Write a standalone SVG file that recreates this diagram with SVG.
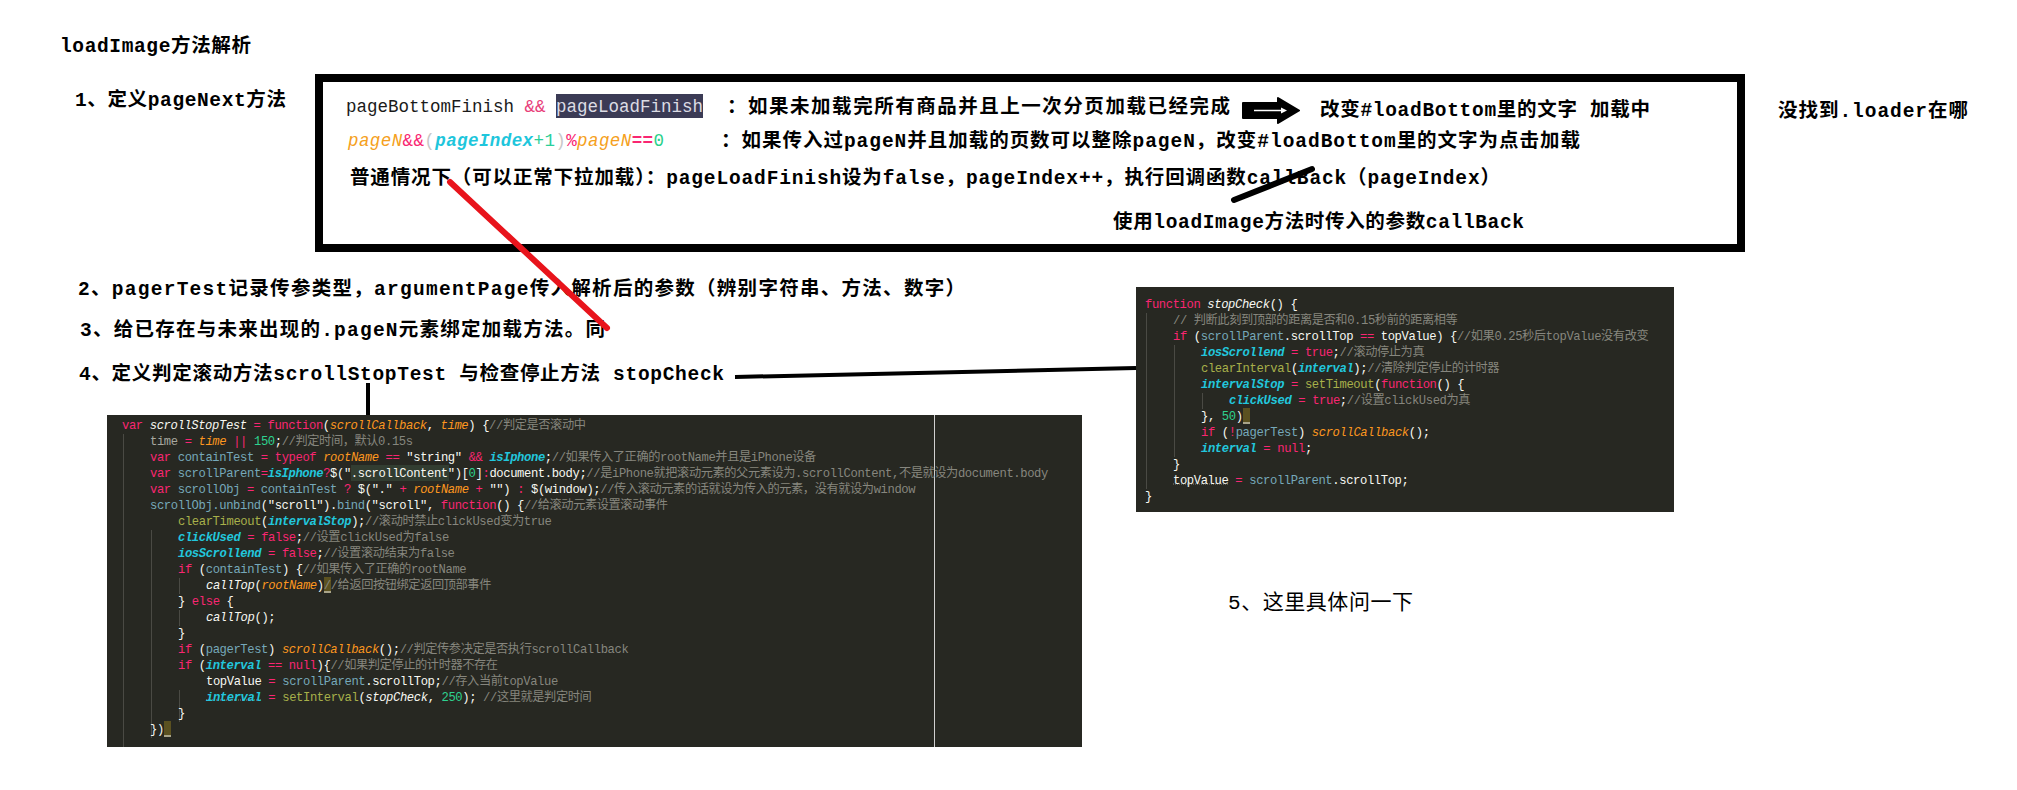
<svg xmlns="http://www.w3.org/2000/svg" width="2017" height="790" viewBox="0 0 2017 790" xml:space="preserve">
<style>
.b{font-family:"Liberation Mono","Noto Sans CJK SC",monospace;font-weight:bold;font-size:19.5px;fill:#000}
.r{font-family:"Liberation Mono","Noto Sans CJK SC",monospace;font-weight:normal;font-size:21px;fill:#000}
.lc{font-family:"Liberation Mono","Noto Sans CJK SC",monospace;font-size:17.5px;fill:#1a1a1a}
.cd{font-family:"Liberation Mono","Noto Sans CJK SC",monospace;font-size:12.2px;letter-spacing:-0.39px;fill:#f8f8f2}
.k{fill:#f92672}
.w{fill:#f8f8f2}
.wi{fill:#f8f8f2;font-style:italic}
.o{fill:#fd971f;font-style:italic}
.c{fill:#22c6dc;font-style:italic;font-weight:bold}
.v{fill:#76a8ba}
.f{fill:#a7b04a}
.n{fill:#2ed18f}
.m{fill:#86867e}
.t{fill:#a8a8a0}
.bg{fill:#272822}
.guide{stroke:#4a4a44;stroke-width:1}
.cur{fill:#5b5120}
</style>

<g id="title"><text class="b" x="60" y="52" textLength="191">loadImage方法解析</text></g>
<g id="step1"><text class="b" x="75" y="106" textLength="211">1、定义pageNext方法</text></g>
<g id="note-loader"><text class="b" x="1778" y="117" textLength="190">没找到.loader在哪</text></g>

<g id="pageNext-box">
<rect x="319" y="78" width="1422" height="170" fill="#fff" stroke="#000" stroke-width="8"/>
<rect x="556" y="94" width="147" height="24" fill="#3b3b55"/>
<text class="lc" x="346" y="112">pageBottomFinish <tspan fill="#e8407a">&amp;&amp;</tspan> <tspan fill="#dcdce4">pageLoadFinish</tspan></text>
<text class="b" x="727" y="113" textLength="503">：如果未加载完所有商品并且上一次分页加载已经完成</text>
<polygon points="1243,103 1278,103 1278,98 1299,110.5 1278,123 1278,118 1243,118" fill="#000" stroke="#000" stroke-width="2" stroke-linejoin="round"/>
<polyline points="1254,110.5 1284,110.5" stroke="#fff" stroke-width="1.5" fill="none"/>
<polygon points="1281,107.5 1287,110.5 1281,113.5" fill="#fff"/>
<text class="b" x="1320" y="116" textLength="330">改变#loadBottom里的文字 加载中</text>
<text class="lc" x="348" y="146" font-size="18" textLength="316"><tspan fill="#f5a020" font-style="italic">pageN</tspan><tspan fill="#f92672">&amp;&amp;</tspan><tspan fill="#c8c8c8">(</tspan><tspan fill="#1ec6dc" font-style="italic" font-weight="bold">pageIndex</tspan><tspan fill="#2acf9a">+1</tspan><tspan fill="#c8c8c8">)</tspan><tspan fill="#f92672">%</tspan><tspan fill="#f5a020" font-style="italic">pageN</tspan><tspan fill="#f92672" font-weight="bold">==</tspan><tspan fill="#2ad08a">0</tspan></text>
<text class="b" x="721" y="147" textLength="859">：如果传入过pageN并且加载的页数可以整除pageN，改变#loadBottom里的文字为点击加载</text>
<text class="b" x="350" y="184" textLength="1150">普通情况下（可以正常下拉加载）：pageLoadFinish设为false，pageIndex++，执行回调函数callBack（pageIndex）</text>
<text class="b" x="1113" y="228" textLength="411">使用loadImage方法时传入的参数callBack</text>
</g>

<g id="step2"><text class="b" x="78" y="295" textLength="887">2、pagerTest记录传参类型，argumentPage传入解析后的参数（辨别字符串、方法、数字）</text></g>
<g id="step3"><text class="b" x="80" y="336" textLength="525">3、给已存在与未来出现的.pageN元素绑定加载方法。同</text></g>
<g id="step4"><text class="b" x="79" y="380" textLength="645">4、定义判定滚动方法scrollStopTest 与检查停止方法 stopCheck</text></g>
<g id="step5"><text class="r" x="1228" y="609" textLength="185">5、这里具体问一下</text></g>

<g id="code-scrollStopTest">
<rect class="bg" x="107" y="415" width="975" height="332"/>
<line x1="934.5" y1="415" x2="934.5" y2="747" stroke="#d0d0d0" stroke-width="1"/>
<line class="guide" x1="123.5" y1="434" x2="123.5" y2="747"/>
<line class="guide" x1="151.5" y1="530" x2="151.5" y2="738"/>
<line class="guide" x1="179.5" y1="578" x2="179.5" y2="594"/>
<line class="guide" x1="179.5" y1="610" x2="179.5" y2="626"/>
<line class="guide" x1="179.5" y1="690" x2="179.5" y2="722"/>
<rect x="351" y="465" width="98" height="16" fill="#323d31"/>
<rect class="cur" x="324" y="577" width="7" height="16"/>
<line x1="324" y1="592" x2="331" y2="592" stroke="#f8f8f2" stroke-width="1"/>
<rect class="cur" x="164" y="721" width="7" height="16"/>
<line x1="164" y1="736" x2="171" y2="736" stroke="#f8f8f2" stroke-width="1"/>
<line x1="206" y1="700" x2="261" y2="700" stroke="#8a8a80" stroke-width="1" stroke-dasharray="1 1"/>
<text class="cd" x="122" y="429"><tspan class="k">var</tspan> <tspan class="wi">scrollStopTest</tspan> <tspan class="k">=</tspan> <tspan class="k">function</tspan>(<tspan class="o">scrollCallback</tspan>, <tspan class="o">time</tspan>) {<tspan class="m">//判定是否滚动中</tspan></text>
<text class="cd" x="150" y="445"><tspan class="t">time</tspan> <tspan class="k">=</tspan> <tspan class="o">time</tspan> <tspan class="k">||</tspan> <tspan class="n">150</tspan>;<tspan class="m">//判定时间，默认0.15s</tspan></text>
<text class="cd" x="150" y="461"><tspan class="k">var</tspan> <tspan class="v">containTest</tspan> <tspan class="k">=</tspan> <tspan class="k">typeof</tspan> <tspan class="o">rootName</tspan> <tspan class="k">==</tspan> "string" <tspan class="k">&amp;&amp;</tspan> <tspan class="c">isIphone</tspan>;<tspan class="m">//如果传入了正确的rootName并且是iPhone设备</tspan></text>
<text class="cd" x="150" y="477"><tspan class="k">var</tspan> <tspan class="v">scrollParent</tspan><tspan class="k">=</tspan><tspan class="c">isIphone</tspan><tspan class="k">?</tspan>$(".scrollContent")[<tspan class="n">0</tspan>]<tspan class="k">:</tspan>document.body;<tspan class="m">//是iPhone就把滚动元素的父元素设为.scrollContent,不是就设为document.body</tspan></text>
<text class="cd" x="150" y="493"><tspan class="k">var</tspan> <tspan class="v">scrollObj</tspan> <tspan class="k">=</tspan> <tspan class="v">containTest</tspan> <tspan class="k">?</tspan> $("." <tspan class="k">+</tspan> <tspan class="o">rootName</tspan> <tspan class="k">+</tspan> "") <tspan class="k">:</tspan> $(window);<tspan class="m">//传入滚动元素的话就设为传入的元素，没有就设为window</tspan></text>
<text class="cd" x="150" y="509"><tspan class="v">scrollObj.unbind</tspan>("scroll").<tspan class="v">bind</tspan>("scroll", <tspan class="k">function</tspan>() {<tspan class="m">//给滚动元素设置滚动事件</tspan></text>
<text class="cd" x="178" y="525"><tspan class="f">clearTimeout</tspan>(<tspan class="c">intervalStop</tspan>);<tspan class="m">//滚动时禁止clickUsed变为true</tspan></text>
<text class="cd" x="178" y="541"><tspan class="c">clickUsed</tspan> <tspan class="k">=</tspan> <tspan class="k">false</tspan>;<tspan class="m">//设置clickUsed为false</tspan></text>
<text class="cd" x="178" y="557"><tspan class="c">iosScrollend</tspan> <tspan class="k">=</tspan> <tspan class="k">false</tspan>;<tspan class="m">//设置滚动结束为false</tspan></text>
<text class="cd" x="178" y="573"><tspan class="k">if</tspan> (<tspan class="v">containTest</tspan>) {<tspan class="m">//如果传入了正确的rootName</tspan></text>
<text class="cd" x="206" y="589"><tspan class="wi">callTop</tspan>(<tspan class="o">rootName</tspan>)<tspan class="m">//给返回按钮绑定返回顶部事件</tspan></text>
<text class="cd" x="178" y="605">} <tspan class="k">else</tspan> {</text>
<text class="cd" x="206" y="621"><tspan class="wi">callTop</tspan>();</text>
<text class="cd" x="178" y="637">}</text>
<text class="cd" x="178" y="653"><tspan class="k">if</tspan> (<tspan class="v">pagerTest</tspan>) <tspan class="o">scrollCallback</tspan>();<tspan class="m">//判定传参决定是否执行scrollCallback</tspan></text>
<text class="cd" x="178" y="669"><tspan class="k">if</tspan> (<tspan class="c">interval</tspan> <tspan class="k">==</tspan> <tspan class="k">null</tspan>){<tspan class="m">//如果判定停止的计时器不存在</tspan></text>
<text class="cd" x="206" y="685">topValue <tspan class="k">=</tspan> <tspan class="v">scrollParent</tspan>.scrollTop;<tspan class="m">//存入当前topValue</tspan></text>
<text class="cd" x="206" y="701"><tspan class="c">interval</tspan> <tspan class="k">=</tspan> <tspan class="f">setInterval</tspan>(<tspan class="wi">stopCheck</tspan>, <tspan class="n">250</tspan>); <tspan class="m">//这里就是判定时间</tspan></text>
<text class="cd" x="178" y="717">}</text>
<text class="cd" x="150" y="733">})</text>
</g>

<g id="code-stopCheck">
<rect class="bg" x="1136" y="287" width="538" height="225"/>
<line class="guide" x1="1146.5" y1="313" x2="1146.5" y2="489"/>
<line class="guide" x1="1174.5" y1="345" x2="1174.5" y2="457"/>
<line class="guide" x1="1202.5" y1="393" x2="1202.5" y2="409"/>
<rect class="cur" x="1243" y="408" width="7" height="16"/>
<line x1="1243" y1="423" x2="1250" y2="423" stroke="#f8f8f2" stroke-width="1"/>
<line x1="1173" y1="484" x2="1228" y2="484" stroke="#8a8a80" stroke-width="1" stroke-dasharray="1 1"/>
<text class="cd" x="1145" y="308"><tspan class="k">function</tspan> <tspan class="wi">stopCheck</tspan>() {</text>
<text class="cd" x="1173" y="324"><tspan class="m">// 判断此刻到顶部的距离是否和0.15秒前的距离相等</tspan></text>
<text class="cd" x="1173" y="340"><tspan class="k">if</tspan> (<tspan class="v">scrollParent</tspan>.scrollTop <tspan class="k">==</tspan> topValue) {<tspan class="m">//如果0.25秒后topValue没有改变</tspan></text>
<text class="cd" x="1201" y="356"><tspan class="c">iosScrollend</tspan> <tspan class="k">=</tspan> <tspan class="k">true</tspan>;<tspan class="m">//滚动停止为真</tspan></text>
<text class="cd" x="1201" y="372"><tspan class="f">clearInterval</tspan>(<tspan class="c">interval</tspan>);<tspan class="m">//清除判定停止的计时器</tspan></text>
<text class="cd" x="1201" y="388"><tspan class="c">intervalStop</tspan> <tspan class="k">=</tspan> <tspan class="f">setTimeout</tspan>(<tspan class="k">function</tspan>() {</text>
<text class="cd" x="1229" y="404"><tspan class="c">clickUsed</tspan> <tspan class="k">=</tspan> <tspan class="k">true</tspan>;<tspan class="m">//设置clickUsed为真</tspan></text>
<text class="cd" x="1201" y="420">}, <tspan class="n">50</tspan>)</text>
<text class="cd" x="1201" y="436"><tspan class="k">if</tspan> (<tspan class="k">!</tspan><tspan class="v">pagerTest</tspan>) <tspan class="o">scrollCallback</tspan>();</text>
<text class="cd" x="1201" y="452"><tspan class="c">interval</tspan> <tspan class="k">=</tspan> <tspan class="k">null</tspan>;</text>
<text class="cd" x="1173" y="468">}</text>
<text class="cd" x="1173" y="484">topValue <tspan class="k">=</tspan> <tspan class="v">scrollParent</tspan>.scrollTop;</text>
<text class="cd" x="1145" y="500">}</text>
</g>

<g id="connectors" fill="none" stroke-linecap="round">
<line x1="450" y1="182" x2="607" y2="328" stroke="#e8141c" stroke-width="6"/>
<line x1="1234" y1="200" x2="1312" y2="169" stroke="#000" stroke-width="6"/>
<line x1="368" y1="383" x2="368" y2="415" stroke="#000" stroke-width="4" stroke-linecap="butt"/>
<line x1="735" y1="377" x2="1136" y2="368" stroke="#000" stroke-width="4" stroke-linecap="butt"/>
</g>
</svg>
